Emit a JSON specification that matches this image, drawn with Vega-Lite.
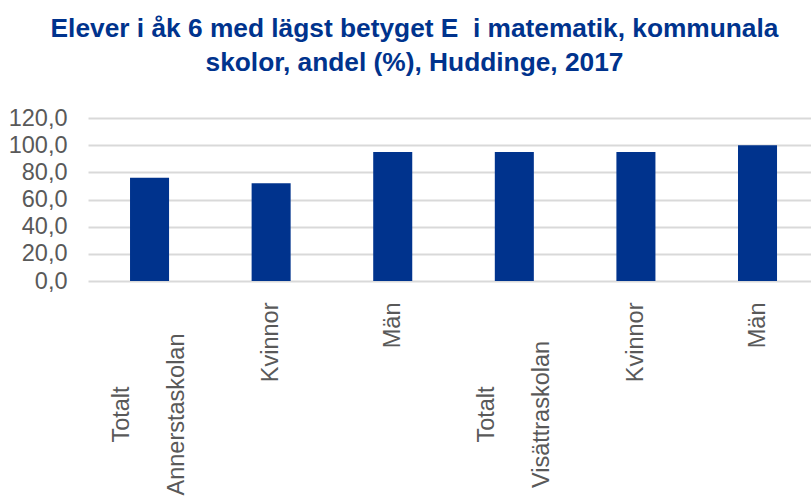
{
  "$schema": "https://vega.github.io/schema/vega-lite/v6.json",
  "autosize": {"type": "none"},
  "width": 723,
  "height": 163,
  "padding": {"left": 88, "top": 118, "right": 0, "bottom": 216},
  "background": "white",
  "title": {
    "text": ["Elever i åk 6 med lägst betyget E\u00a0 i matematik, kommunala", "skolor, andel (%), Huddinge, 2017"],
    "anchor": "middle",
    "frame": "group",
    "dx": -35,
    "offset": 30,
    "font": "Liberation Sans",
    "fontSize": 26.3,
    "fontWeight": "bold",
    "lineHeight": 34,
    "color": "#00338D"
  },
  "data": {
    "values": [
      {"kategori": "Totalt|Annerstaskolan", "andel": 76},
      {"kategori": "Kvinnor|Annerstaskolan", "andel": 72},
      {"kategori": "Män|Annerstaskolan", "andel": 95},
      {"kategori": "Totalt|Visättraskolan", "andel": 95},
      {"kategori": "Kvinnor|Visättraskolan", "andel": 95},
      {"kategori": "Män|Visättraskolan", "andel": 100}
    ]
  },
  "mark": {"type": "bar", "color": "#00338D"},
  "encoding": {
    "x": {
      "field": "kategori",
      "type": "nominal",
      "sort": null,
      "scale": {"paddingInner": 0.679, "paddingOuter": 0.3125, "align": 0.553},
      "axis": {
        "title": null,
        "domain": false,
        "ticks": false,
        "labelAngle": -90,
        "labelAlign": {"condition": {"test": "indexof(datum.value, 'Totalt') == 0", "value": "center"}, "value": "right"},
        "labelBaseline": "middle",
        "labelPadding": {"condition": {"test": "indexof(datum.value, 'Totalt') == 0", "value": 133}, "value": 21},
        "labelOffset": {"condition": {"test": "indexof(datum.value, 'Totalt') == 0", "value": -27.5}, "value": 0},
        "labelFont": "Liberation Sans",
        "labelFontSize": 23.5,
        "labelColor": "#595959",
        "labelLineHeight": 55,
        "labelOverlap": false,
        "labelLimit": 0,
        "labelExpr": "split(datum.value,'|')[0] == 'Totalt' ? ['Totalt', split(datum.value,'|')[1]] : split(datum.value,'|')[0]"
      }
    },
    "y": {
      "field": "andel",
      "type": "quantitative",
      "scale": {"domain": [0, 120], "nice": false},
      "axis": {
        "title": null,
        "values": [0, 20, 40, 60, 80, 100, 120],
        "domain": false,
        "ticks": false,
        "labelPadding": 21,
        "labelFont": "Liberation Sans",
        "labelFontSize": 23.5,
        "labelColor": "#595959",
        "labelExpr": "replace(format(datum.value, '.1f'), '.', ',')",
        "grid": true,
        "gridColor": "#D9D9D9",
        "gridWidth": 1.8
      }
    }
  },
  "config": {"view": {"stroke": null}}
}
